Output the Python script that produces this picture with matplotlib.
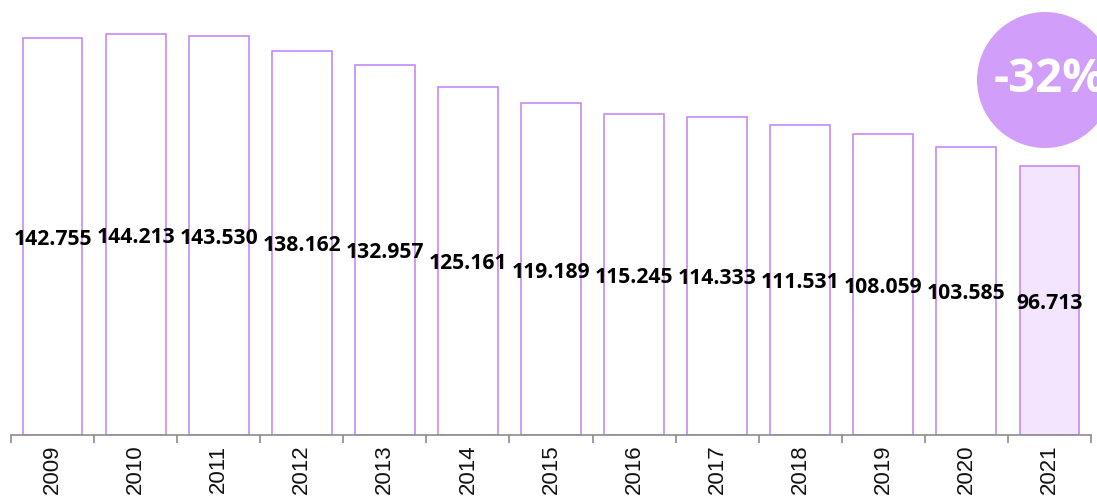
import matplotlib
matplotlib.use("Agg")
import matplotlib.pyplot as plt
from matplotlib.patches import Circle
from matplotlib import font_manager

years = ["2009", "2010", "2011", "2012", "2013", "2014", "2015", "2016",
         "2017", "2018", "2019", "2020", "2021"]
values = [142.755, 144.213, 143.530, 138.162, 132.957, 125.161, 119.189,
          115.245, 114.333, 111.531, 108.059, 103.585, 96.713]
value_labels = ["142.755", "144.213", "143.530", "138.162", "132.957", "125.161",
                "119.189", "115.245", "114.333", "111.531", "108.059", "103.585", "96.713"]
badge_text = "-32%"

bold_fp = font_manager.FontProperties(family=["Open Sans", "DejaVu Sans"], weight="bold")

fig = plt.figure(figsize=(10.97, 4.98), dpi=100)
ax = fig.add_axes([11/1097, 63/498, 1080/1097, 435/498])

edge = "#C58AF9"
fills = ["white"] * (len(values) - 1) + ["#F2E5FD"]
x = list(range(len(values)))
ax.bar(x, values, width=0.72, color=fills, edgecolor=edge, linewidth=1.2, zorder=2)

for xi, v, lab in zip(x, values, value_labels):
    ax.text(xi, v / 2 - 1, lab, ha="center", va="center", fontproperties=bold_fp,
            fontsize=15.2, color="black", zorder=3)

ax.set_xlim(-0.5, len(values) - 0.5)
ax.set_ylim(0, 156.4)
ax.set_yticks([])
for s in ["top", "right", "left"]:
    ax.spines[s].set_visible(False)
ax.spines["bottom"].set_color("#8c8c8c")
ax.spines["bottom"].set_linewidth(1.2)

ax.set_xticks([i - 0.5 for i in range(len(values) + 1)])
ax.set_xticklabels([])
ax.set_xticks(x, minor=True)
ax.set_xticklabels(years, minor=True, rotation=90, fontsize=16,
                   family="Liberation Sans", color="#111111")
ax.tick_params(axis="x", which="major", length=6, width=1.2, color="#8c8c8c")
ax.tick_params(axis="x", which="minor", length=0, pad=7)

circ = Circle((1045, 498 - 80), 68, transform=None, facecolor="#D19EFA",
              edgecolor="none", zorder=5)
fig.patches.append(circ)
fig.text(1050 / 1097, (498 - 80) / 498, badge_text, ha="center", va="center",
         fontproperties=bold_fp, fontsize=34, color="white", zorder=6)

fig.savefig("out.png", dpi=100)
